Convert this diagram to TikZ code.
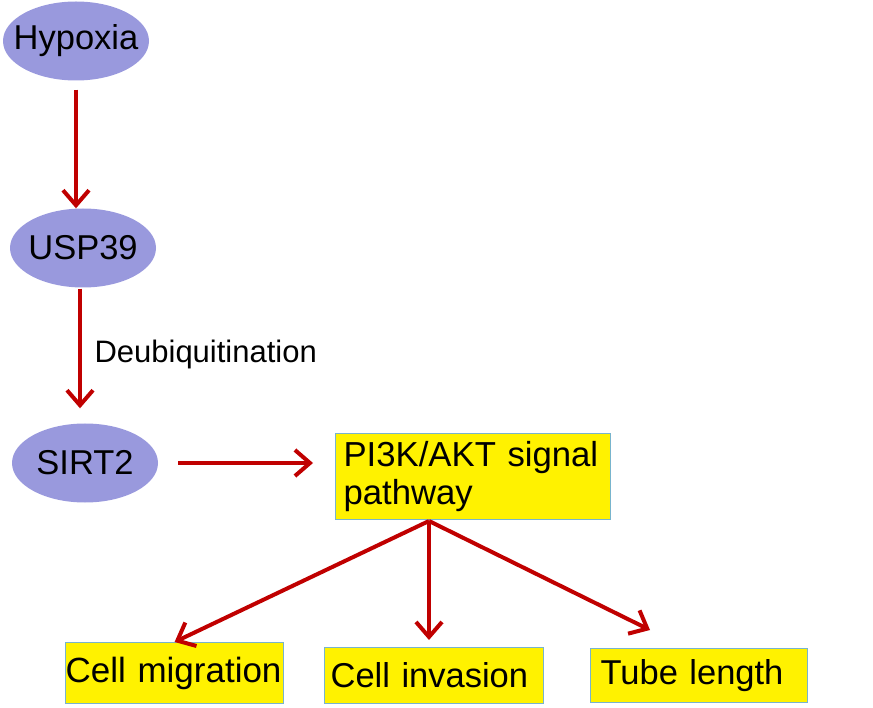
\documentclass[tikz,border=0pt]{standalone}
\usepackage{fontspec}
\setmainfont{Liberation Sans}
\usepackage{tikz}
\usetikzlibrary{shapes}
\usetikzlibrary{arrows.meta}
\definecolor{lavender}{RGB}{153,153,221}
\definecolor{darkred}{RGB}{192,0,0}
\definecolor{edgeblue}{RGB}{120,180,205}
\tikzstyle{protein}=[ellipse,fill=lavender,minimum width=146pt,minimum height=79pt,inner sep=0pt]
\tikzstyle{outcome}=[rectangle,fill=yellow,draw=edgeblue,line width=1.2pt,anchor=north west,align=left]
\tikzstyle{redarrow}=[draw=darkred,line width=4pt,-{Straight Barb[length=15pt,width=26pt]}]

\begin{document}
\begin{tikzpicture}[x=1pt,y=-1pt]
  \useasboundingbox (0,0) rectangle (873,708);

  \foreach \pos/ \name / \label in {{(76,41)/hyp/Hypoxia}, {(83,248)/usp/USP39}, {(85,463)/sirt/SIRT2}}
  {
    \node[protein] (\name) at \pos {};
    \node[font=\fontsize{34.5}{40}\selectfont] (\name-t) at \pos {\label};
  }

  \node[outcome,text width=259pt,inner xsep=8pt,minimum height=86pt,font=\fontsize{34.7}{38}\selectfont] (pi) at (335,433) {PI3K/AKT signal\\pathway};

  \node[outcome,text width=218pt,inner xsep=0pt,minimum height=61pt,font=\fontsize{35}{40}\selectfont] (mig) at (65,642) {Cell migration};
  \node[outcome,text width=207pt,inner xsep=6pt,minimum height=56pt,font=\fontsize{34.5}{40}\selectfont] (inv) at (324,647) {Cell invasion};
  \node[outcome,text width=197pt,inner xsep=10pt,minimum height=54pt,font=\fontsize{34.5}{40}\selectfont] (tube) at (590,648) {Tube length};

  \node[anchor=base west,font=\fontsize{31}{36}\selectfont] (deub) at (91,363) {Deubiquitination};

  \coordinate (fork) at (429,521);
  \draw[redarrow,shorten <=9pt] (hyp.south) -- (hyp.south |- usp.north);
  \draw[redarrow,shorten <=1pt,shorten >=15pt] ([xshift=-3pt]usp.south) -- ([xshift=-3pt]usp.south |- sirt.north);
  \draw[redarrow,shorten <=20pt,shorten >=22pt] (sirt.east) -- (sirt.east -| pi.west);
  \draw[redarrow] (fork) -- (mig.north);
  \draw[redarrow,shorten >=7pt] (fork) -- (fork |- inv.north);
  \draw[redarrow] (fork) -- ([xshift=60pt,yshift=18pt]tube.north west);
\end{tikzpicture}
\end{document}
